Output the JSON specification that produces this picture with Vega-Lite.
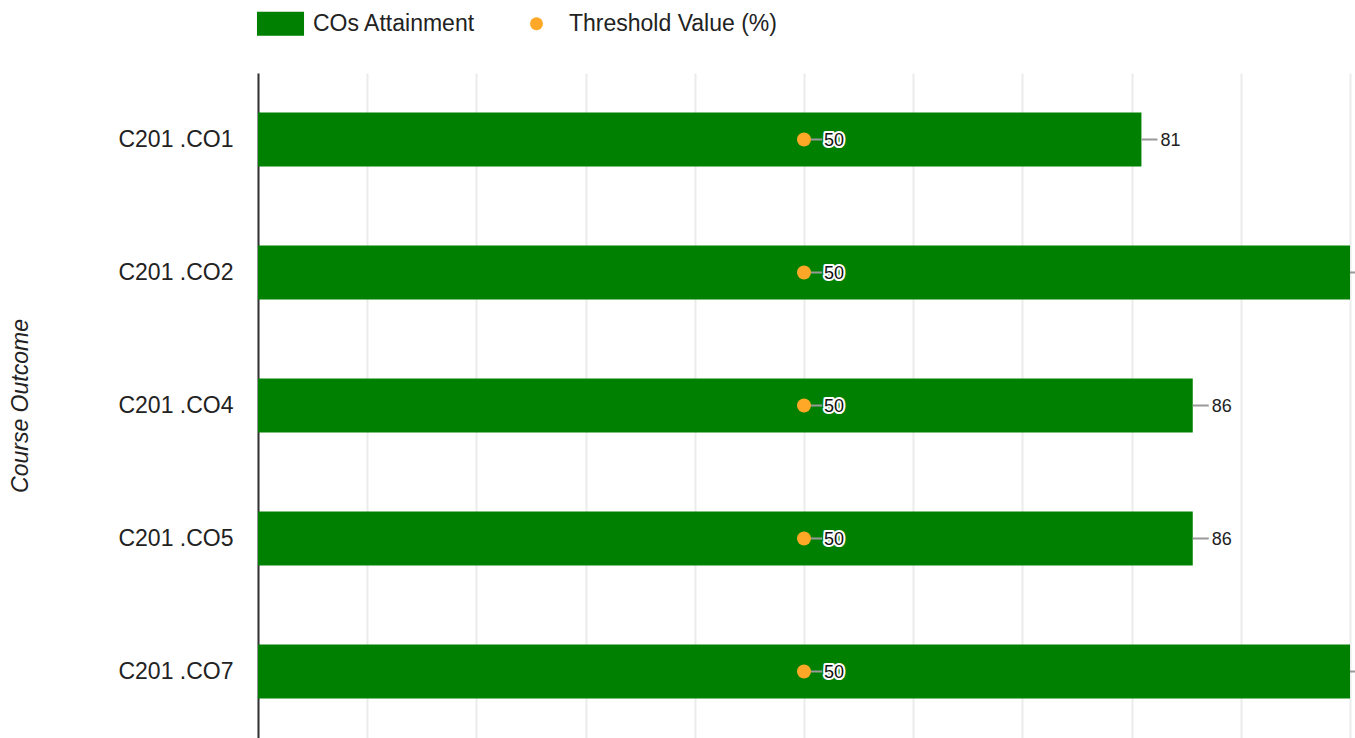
{
  "$schema": "https://vega.github.io/schema/vega-lite/v6.json",
  "width": 1092,
  "height": 665,
  "autosize": {"type": "none"},
  "padding": {"left": 258, "top": 73, "right": 5, "bottom": 0},
  "config": {
    "view": {"stroke": null},
    "font": "Liberation Sans",
    "text": {"font": "Liberation Sans"}
  },
  "data": {
    "values": [
      {"co": "C201 .CO1", "attainment": 80.9, "threshold": 50},
      {"co": "C201 .CO2", "attainment": 100, "threshold": 50},
      {"co": "C201 .CO4", "attainment": 85.6, "threshold": 50},
      {"co": "C201 .CO5", "attainment": 85.6, "threshold": 50},
      {"co": "C201 .CO7", "attainment": 100, "threshold": 50}
    ]
  },
  "encoding": {
    "y": {
      "field": "co",
      "type": "nominal",
      "sort": null,
      "scale": {"paddingInner": 0.594, "paddingOuter": 0.297},
      "axis": {
        "title": "Course Outcome",
        "titleFont": "Liberation Sans",
        "titleFontStyle": "italic",
        "titleFontWeight": "normal",
        "titleFontSize": 23,
        "titleColor": "#222222",
        "titlePadding": 85,
        "labelFont": "Liberation Sans",
        "labelFontSize": 23,
        "labelColor": "#222222",
        "labelPadding": 25,
        "ticks": false,
        "domain": true,
        "domainColor": "#333333",
        "domainWidth": 2,
        "grid": false
      }
    }
  },
  "layer": [
    {
      "mark": {"type": "bar"},
      "encoding": {
        "x": {
          "field": "attainment",
          "type": "quantitative",
          "scale": {"domain": [0, 100]},
          "axis": {
            "values": [0, 10, 20, 30, 40, 50, 60, 70, 80, 90, 100],
            "grid": true,
            "gridColor": "#ebebeb",
            "gridWidth": 2,
            "domain": false,
            "ticks": false,
            "labels": false,
            "title": null
          }
        },
        "color": {
          "datum": "COs Attainment",
          "type": "nominal",
          "scale": {
            "domain": ["COs Attainment", "Threshold Value (%)"],
            "range": ["#008000", "#ffa726"]
          },
          "legend": {
            "orient": "none",
            "legendX": 11,
            "legendY": -61,
            "direction": "horizontal",
            "title": null,
            "symbolSize": 169,
            "symbolOpacity": 1,
            "symbolStrokeWidth": 0,
            "labelFont": "Liberation Sans",
            "labelFontSize": 23,
            "labelColor": "#222222",
            "labelOffset": 21,
            "labelLimit": 0,
            "columnPadding": 49,
            "padding": 0
          }
        }
      }
    },
    {
      "mark": {"type": "rule", "color": "#999999", "strokeWidth": 2, "x2Offset": 16},
      "encoding": {
        "x": {"field": "attainment", "type": "quantitative"},
        "x2": {"field": "attainment"}
      }
    },
    {
      "transform": [{"filter": "datum.attainment < 100"}],
      "mark": {"type": "text", "align": "left", "baseline": "middle", "dx": 19, "dy": 1, "fontSize": 18, "color": "#222222"},
      "encoding": {
        "x": {"field": "attainment", "type": "quantitative"},
        "text": {"field": "attainment", "type": "quantitative", "format": ".0f"}
      }
    },
    {
      "mark": {"type": "rule", "color": "#999999", "strokeWidth": 2, "x2Offset": 18},
      "encoding": {
        "x": {"field": "threshold", "type": "quantitative"},
        "x2": {"field": "threshold"}
      }
    },
    {
      "mark": {"type": "point", "filled": true, "size": 196, "opacity": 1},
      "encoding": {
        "x": {"field": "threshold", "type": "quantitative"},
        "color": {"datum": "Threshold Value (%)", "type": "nominal"},
        "shape": {
          "datum": "Threshold Value (%)",
          "type": "nominal",
          "scale": {
            "domain": ["COs Attainment", "Threshold Value (%)"],
            "range": ["M-3.62,-1.85H3.62V1.85H-3.62Z", "circle"]
          },
          "legend": {
            "orient": "none",
            "legendX": 11,
            "legendY": -61,
            "direction": "horizontal",
            "title": null,
            "symbolSize": 169,
            "symbolOpacity": 1,
            "symbolStrokeWidth": 0,
            "labelFont": "Liberation Sans",
            "labelFontSize": 23,
            "labelColor": "#222222",
            "labelOffset": 21,
            "labelLimit": 0,
            "columnPadding": 49,
            "padding": 0
          }
        }
      }
    },
    {
      "mark": {"type": "text", "align": "left", "baseline": "middle", "dx": 20, "dy": 1, "fontSize": 18, "fill": "white", "stroke": "white", "strokeWidth": 4, "strokeJoin": "round"},
      "encoding": {
        "x": {"field": "threshold", "type": "quantitative"},
        "text": {"field": "threshold", "type": "quantitative", "format": ".0f"}
      }
    },
    {
      "mark": {"type": "text", "align": "left", "baseline": "middle", "dx": 20, "dy": 1, "fontSize": 18, "color": "#111111"},
      "encoding": {
        "x": {"field": "threshold", "type": "quantitative"},
        "text": {"field": "threshold", "type": "quantitative", "format": ".0f"}
      }
    }
  ]
}
